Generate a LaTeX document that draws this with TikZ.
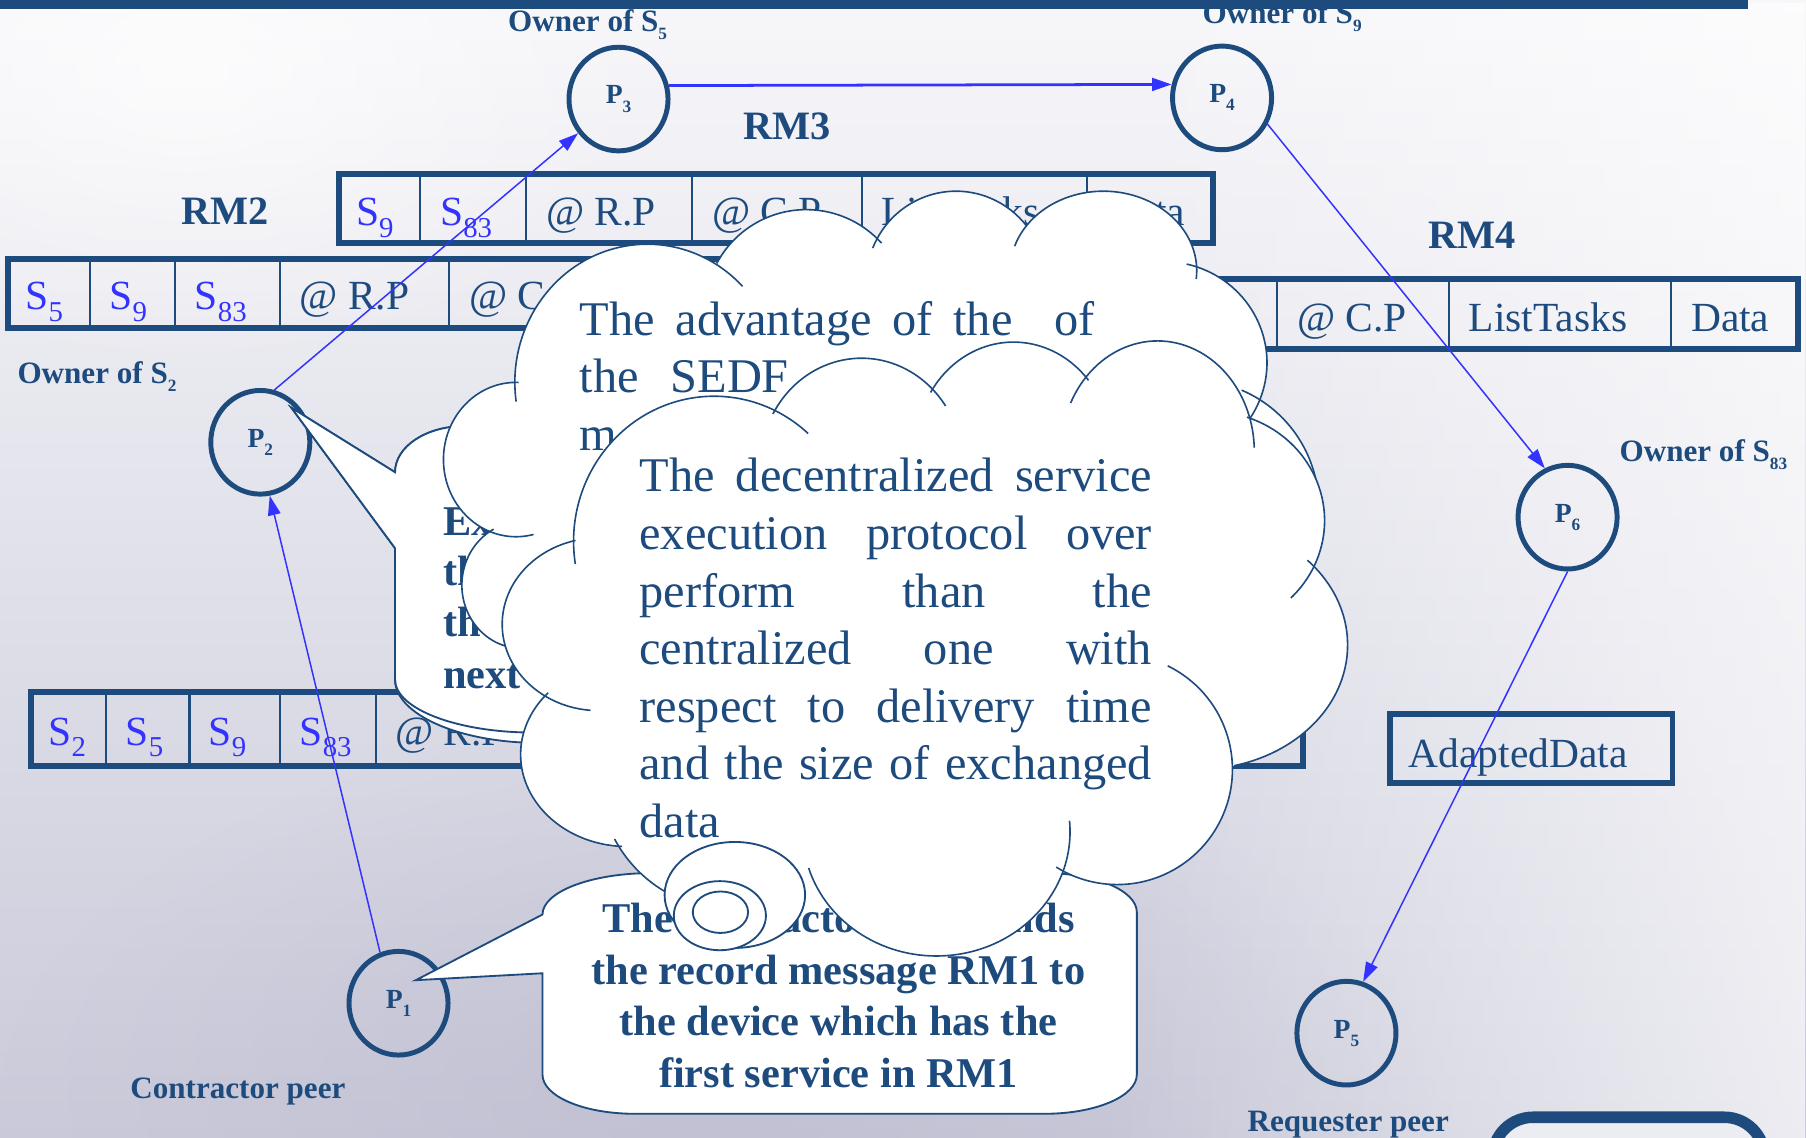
\documentclass[tikz,border=0pt]{standalone}
\usepackage{fontspec}
\setmainfont{Liberation Serif}
\usetikzlibrary{shapes.geometric,arrows.meta,fadings}

\definecolor{inkblue}{RGB}{30,75,125}
\definecolor{linkblue}{RGB}{51,51,255}
\definecolor{bgtop}{RGB}{247,247,250}
\definecolor{bgbot}{RGB}{202,202,218}
\definecolor{bgdeep}{RGB}{186,186,206}
\definecolor{panelfill}{RGB}{236,236,243}
\tikzfading[name=glowright, left color=transparent!100, right color=transparent!0]
\tikzfading[name=softspot, inner color=transparent!0, outer color=transparent!100]

% S with a lowered index, as used in the record-message cells
\newcommand{\cellsub}[2]{#1\raisebox{-10pt}{\fontsize{25}{25}\selectfont #2}}
% small lowered index for peer names and owner labels
\newcommand{\tinysub}[2]{#1\raisebox{-7pt}{\fontsize{15}{15}\selectfont #2}}
% one lobe of a cloud: white body, then its outline arc
\newcommand{\lobefill}[4]{\fill[white] (#1,#2) ellipse[x radius=#3, y radius=#4];}
\newcommand{\lobearc}[6]{\draw[lobe] (#1,#2) ++(#5:#3 and #4) arc[start angle=#5, end angle=#6, x radius=#3, y radius=#4];}

\tikzset{
  peer/.style={ellipse, draw=inkblue, line width=4.3pt, minimum width=86pt, minimum height=90pt,
    inner sep=0pt, font=\bfseries\fontsize{24}{24}\selectfont, text=inkblue},
  owner/.style={anchor=base west, inner sep=0pt, font=\bfseries\fontsize{27}{27}\selectfont, text=inkblue},
  rmname/.style={anchor=base west, inner sep=0pt, font=\bfseries\fontsize{35}{35}\selectfont, text=inkblue},
  rmframe/.style={draw=inkblue, line width=5pt},
  rmsep/.style={draw=inkblue, line width=1.8pt},
  cellsv/.style={anchor=base west, inner sep=0pt, font=\fontsize{36}{36}\selectfont, text=linkblue},
  cellav/.style={anchor=base west, inner sep=0pt, font=\fontsize{36}{36}\selectfont, text=inkblue},
  flow/.style={draw=linkblue, line width=1.3pt, -{Triangle[length=17pt,width=11pt]}},
  bubble/.style={fill=white, draw=inkblue, line width=1.6pt},
  lobe/.style={draw=inkblue, line width=1.4pt},
  saytext/.style={inner sep=0pt, font=\bfseries\fontsize{36.8}{44.5}\selectfont, text=inkblue},
  thought/.style={anchor=base west, inner sep=0pt, font=\fontsize{42}{50}\selectfont, text=inkblue},
}

\begin{document}
\begin{tikzpicture}[x=1pt,y=-1pt]
\useasboundingbox (0,0) rectangle (1568,988);
\clip (0,0) rectangle (1568,988);

% slide background
\shade[top color=bgtop, bottom color=bgbot] (0,0) rectangle (1568,988);
\fill[bgdeep, opacity=0.6, path fading=softspot] (620,960) ellipse[x radius=620, y radius=330];
\fill[white, opacity=0.65, path fading=glowright] (950,0) rectangle (1568,988);
\fill[white, opacity=0.7, path fading=softspot] (160,60) ellipse[x radius=420, y radius=260];

% ---------------- record messages ----------------
% RM3
\draw[rmframe] (294,151) rectangle (1053,211);
\foreach \x in {365,457,601,748,944} \draw[rmsep] (\x,151) -- (\x,211);
\node[cellsv] (rm3a) at (309,196) {\cellsub{S}{9}};
\node[cellsv] (rm3b) at (382,196) {\cellsub{S}{83}};
\node[cellav] (rm3c) at (474,196) {@ R.P};
\node[cellav] (rm3d) at (618,196) {@ C.P};
\node[cellav] (rm3e) at (765,196) {ListTasks};
\node[cellav] (rm3f) at (961,196) {Data};

% RM2
\draw[rmframe] (7,225) rectangle (998,285);
\foreach \x in {78,152,243,390,537,684,880} \draw[rmsep] (\x,225) -- (\x,285);
\node[cellsv] (rm2a) at (22,269) {\cellsub{S}{5}};
\node[cellsv] (rm2b) at (95,269) {\cellsub{S}{9}};
\node[cellsv] (rm2c) at (169,269) {\cellsub{S}{83}};
\node[cellav] (rm2d) at (260,269) {@ R.P};
\node[cellav] (rm2e) at (407,269) {@ C.P};

% RM4
\draw[rmframe] (872,242) rectangle (1561,303);
\foreach \x in {962,1109,1258,1451} \draw[rmsep] (\x,242) -- (\x,303);
\node[cellav] (rm4a) at (1126,288) {@ C.P};
\node[cellav] (rm4b) at (1275,288) {ListTasks};
\node[cellav] (rm4c) at (1468,288) {Data};

% RM1
\draw[rmframe] (27,601) rectangle (1131,665);
\foreach \x in {92,164.5,243,326.5,476,626,876} \draw[rmsep] (\x,601) -- (\x,665);
\node[cellsv] (rm1a) at (42,647) {\cellsub{S}{2}};
\node[cellsv] (rm1b) at (109,647) {\cellsub{S}{5}};
\node[cellsv] (rm1c) at (181,647) {\cellsub{S}{9}};
\node[cellsv] (rm1d) at (260,647) {\cellsub{S}{83}};
\node[cellav] (rm1e) at (343,647) {@ R.P};

% adapted data
\draw[rmframe] (1207,620) rectangle (1452,680);
\node[cellav] (adapt) at (1223,666) {AdaptedData};

% message names
\node[rmname] (rm3) at (645,121) {RM3};
\node[rmname] (rm2) at (157,195) {RM2};
\node[rmname] (rm4) at (1240,216) {RM4};

% ---------------- peers ----------------
\node[peer] (p3) at (537,86) {\tinysub{P}{3}};
\node[peer] (p4) at (1061,85) {\tinysub{P}{4}};
\node[peer] (p2) at (226,384) {\tinysub{P}{2}};
\node[peer] (p6) at (1361,449) {\tinysub{P}{6}};
\node[peer] (p1) at (346,871) {\tinysub{P}{1}};
\node[peer] (p5) at (1169,897) {\tinysub{P}{5}};

\node[owner] (own5) at (441,27.5) {Owner of \tinysub{S}{5}};
\node[owner] (own9) at (1044,20) {Owner of \tinysub{S}{9}};
\node[owner] (own2) at (15,333) {Owner of \tinysub{S}{2}};
\node[owner] (own83) at (1406,401) {Owner of \tinysub{S}{83}};
\node[owner] (contr) at (113,954) {Contractor peer};
\node[owner] (reqst) at (1083,982) {Requester peer};

% ---------------- message flow ----------------
\draw[flow] (p1.110) -- (p2.-80);
\draw[flow] (p2.75) -- (p3);
\draw[flow, line width=2.4pt] (p3.15) -- (p4.165);
\draw[flow] (p4.-30) -- (p6.115);
\draw[flow] (p6.-90) -- (p5.72);

% ---------------- callout of P2 ----------------
\path[bubble] (343,410) -- (253,354) -- (343,476) -- (343,590)
  arc[start angle=180, end angle=90, x radius=125, y radius=55] -- (700,645) -- (700,370) -- (403,370)
  arc[start angle=270, end angle=180, x radius=60, y radius=40] -- cycle;
\path[bubble] (343,410) -- (253,354) -- (343,476) -- (343,590)
  arc[start angle=180, end angle=90, x radius=120, y radius=46] -- (700,636) -- (700,370) -- (403,370)
  arc[start angle=270, end angle=180, x radius=60, y radius=40] -- cycle;
\node[saytext, anchor=base west] (ca1) at (384.5,464.5) {Ex};
\node[saytext, anchor=base west] (ca2) at (384.5,508) {th};
\node[saytext, anchor=base west] (ca3) at (384.5,552.8) {the};
\node[saytext, anchor=base west] (ca4) at (384.5,597.6) {next};

% ---------------- first cloud ----------------
\lobefill{562}{332}{115}{120}
\lobefill{700}{270}{88}{88}
\lobefill{830}{245}{78}{79}
\lobefill{958}{235}{81}{69}
\lobefill{1010}{315}{90}{88}
\lobefill{1035}{440}{110}{110}
\lobefill{448}{399}{63}{67}
\lobefill{453}{508}{52}{55}
\fill[white] (480,270) rectangle (1040,520);
\lobearc{562}{332}{115}{120}{172}{316}
\lobearc{700}{270}{88}{88}{208}{318}
\lobearc{830}{245}{78}{79}{202}{322}
\lobearc{958}{235}{81}{69}{198}{366}
\lobearc{1010}{315}{90}{88}{283}{420}
\lobearc{1035}{440}{110}{110}{293}{400}
\lobearc{448}{399}{63}{67}{272}{76}
\lobearc{453}{508}{52}{55}{242}{103}
\node[thought] (c1a) at (503,291) {\makebox[447pt][s]{The advantage of the\ \ of}};
\node[thought] (c1b) at (503,341) {the};
\node[thought] (c1c) at (582,341) {SEDF};
\node[thought] (c1d) at (503,391) {m};

% ---------------- callout of P1 ----------------
\path[bubble] (471,794) -- (361,851) -- (471,845) -- (471,933)
  arc[start angle=180, end angle=90, x radius=80, y radius=34] -- (907,967)
  arc[start angle=90, end angle=0, x radius=80, y radius=34] -- (987,792)
  arc[start angle=0, end angle=-90, x radius=80, y radius=34] -- (566,758)
  arc[start angle=270, end angle=180, x radius=95, y radius=36] -- cycle;
\node[saytext, anchor=base] (cb1) at (728,810) {The contractor peer sends};
\node[saytext, anchor=base] (cb2) at (728,855) {the record message RM1 to};
\node[saytext, anchor=base] (cb3) at (728,899) {the device which has the};
\node[saytext, anchor=base] (cb4) at (728,944) {first service in RM1};

% ---------------- second cloud ----------------
\lobefill{620}{470}{122}{126}
\lobefill{748}{405}{88}{94}
\lobefill{880}{390}{85}{93}
\lobefill{1005}{392}{84}{96}
\lobefill{1050}{452}{100}{95}
\lobefill{1040}{560}{130}{108}
\lobefill{970}{668}{100}{100}
\lobefill{813}{722}{116}{108}
\lobefill{636}{674}{116}{116}
\lobefill{545}{655}{93}{80}
\lobefill{520}{542}{84}{75}
\fill[white] (540,400) rectangle (1050,720);
\lobearc{620}{470}{122}{126}{171}{312}
\lobearc{748}{405}{88}{94}{209}{326}
\lobearc{880}{390}{85}{93}{212}{320}
\lobearc{1005}{392}{84}{96}{206}{358}
\lobearc{1050}{452}{100}{95}{289}{405}
\lobearc{1040}{560}{130}{108}{317}{436}
\lobearc{970}{668}{100}{100}{296}{482}
\lobearc{813}{722}{116}{108}{-5}{163}
\lobearc{636}{674}{116}{116}{152}{95}
\lobearc{545}{655}{93}{80}{93}{222}
\lobearc{520}{542}{84}{75}{95}{256}
\node[thought] (c2a) at (555,427) {\makebox[445pt][s]{The decentralized service}};
\node[thought] (c2b) at (555,477) {\makebox[445pt][s]{execution protocol over}};
\node[thought] (c2c) at (555,527) {\makebox[445pt][s]{perform than the}};
\node[thought] (c2d) at (555,577) {\makebox[445pt][s]{centralized one with}};
\node[thought] (c2e) at (555,627) {\makebox[445pt][s]{respect to delivery time}};
\node[thought] (c2f) at (555,677) {\makebox[445pt][s]{and the size of exchanged}};
\node[thought] (c2g) at (555,727) {data};

% thought bubbles
\path[bubble] (638,777) ellipse[x radius=61, y radius=46];
\path[bubble] (625,795) ellipse[x radius=40, y radius=30];
\path[bubble] (625.5,792) ellipse[x radius=24, y radius=18];

% ---------------- slide frame ----------------
\draw[draw=inkblue, line width=10pt, fill=panelfill, rounded corners=35pt] (1296,970) rectangle (1532,1040);
\fill[inkblue] (0,0) rectangle (1518,7.5);
\end{tikzpicture}
\end{document}
